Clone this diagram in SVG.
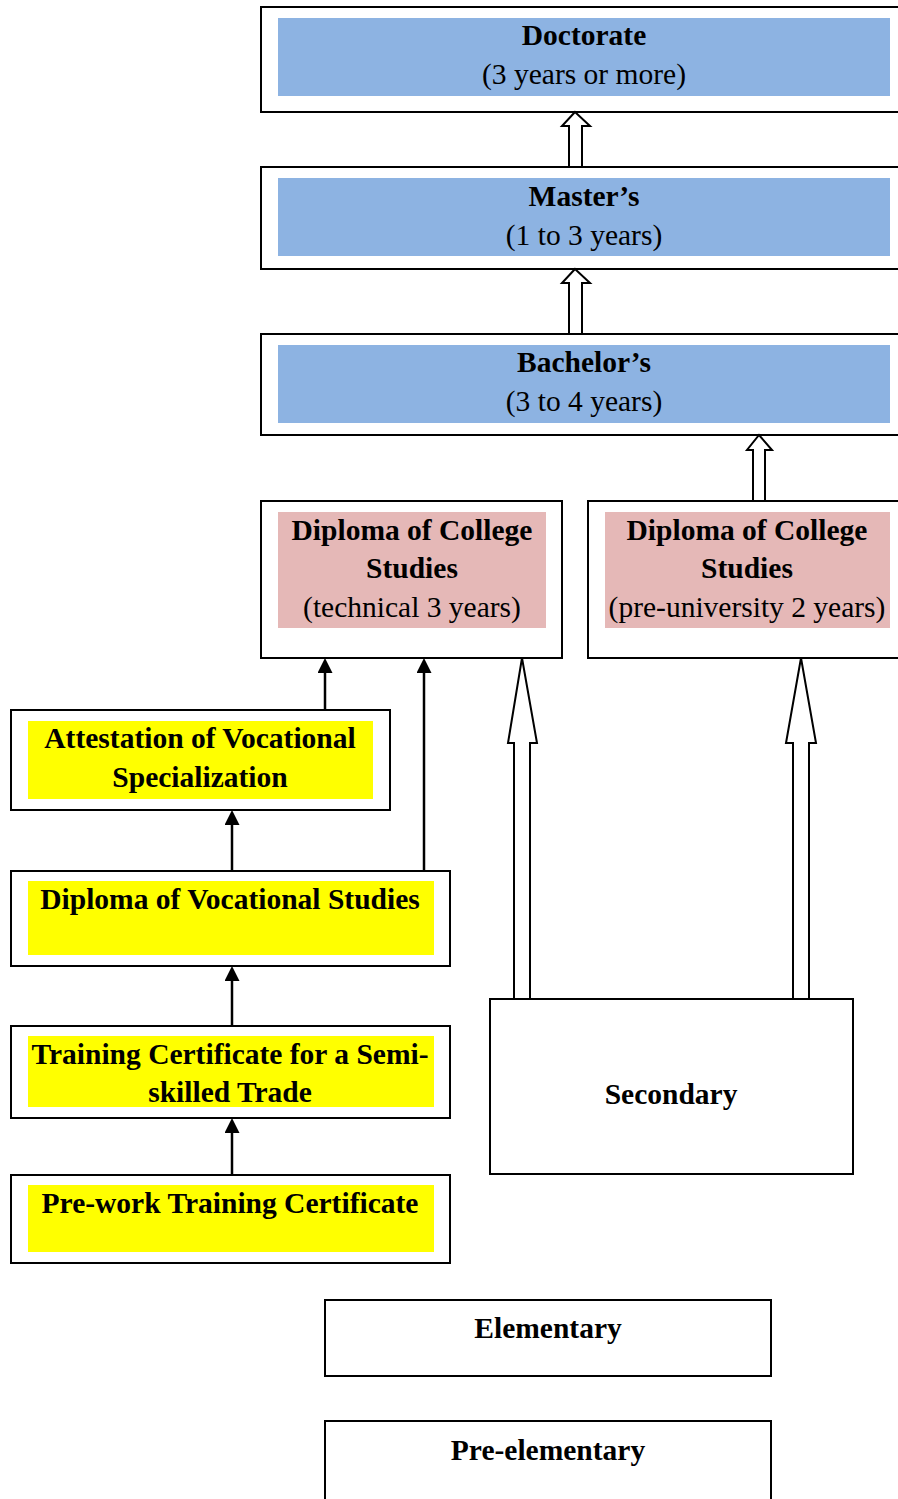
<svg xmlns="http://www.w3.org/2000/svg" width="898" height="1499" viewBox="0 0 898 1499">
<style>
.box{fill:#fff;stroke:#000;stroke-width:2}
.blue{fill:#8db3e2}
.pink{fill:#e5b8b7}
.yel{fill:#ffff00}
.b{font-family:"Liberation Serif","Times New Roman",serif;font-weight:bold;font-size:29.5px;text-anchor:middle;fill:#000}
.r{font-family:"Liberation Serif","Times New Roman",serif;font-size:29.5px;text-anchor:middle;fill:#000}
.hollow{fill:#fff;stroke:#000;stroke-width:2;stroke-linejoin:miter}
.line{stroke:#000;stroke-width:2.5;fill:none}
</style>
<defs>
<marker id="ah" markerWidth="6" markerHeight="6" refX="0" refY="3" orient="auto" markerUnits="strokeWidth" viewBox="0 0 6 6">
<path d="M0,0 L6,3 L0,6 Z" fill="#000"/>
</marker>
</defs>

<g id="doctorate">
<rect class="box" x="261" y="7" width="660" height="105"/>
<rect class="blue" x="278" y="18" width="612" height="78"/>
<text class="b" x="584" y="45">Doctorate</text>
<text class="r" x="584" y="84">(3 years or more)</text>
</g>
<g id="masters">
<rect class="box" x="261" y="167" width="660" height="102"/>
<rect class="blue" x="278" y="178" width="612" height="78"/>
<text class="b" x="584" y="206">Master’s</text>
<text class="r" x="584" y="245">(1 to 3 years)</text>
</g>
<g id="bachelors">
<rect class="box" x="261" y="334" width="660" height="101"/>
<rect class="blue" x="278" y="345" width="612" height="78"/>
<text class="b" x="584" y="372">Bachelor’s</text>
<text class="r" x="584" y="411">(3 to 4 years)</text>
</g>
<g id="dec-technical">
<rect class="box" x="261" y="501" width="301" height="157"/>
<rect class="pink" x="278" y="512" width="268" height="116"/>
<text class="b" x="412" y="540">Diploma of College</text>
<text class="b" x="412" y="578">Studies</text>
<text class="r" x="412" y="617">(technical 3 years)</text>
</g>
<g id="dec-preuniversity">
<rect class="box" x="588" y="501" width="333" height="157"/>
<rect class="pink" x="605" y="512" width="285" height="116"/>
<text class="b" x="747" y="540">Diploma of College</text>
<text class="b" x="747" y="578">Studies</text>
<text class="r" x="747" y="617">(pre-university 2 years)</text>
</g>
<g id="attestation">
<rect class="box" x="11" y="710" width="379" height="100"/>
<rect class="yel" x="28" y="721" width="345" height="78"/>
<text class="b" x="200" y="748">Attestation of Vocational</text>
<text class="b" x="200" y="787">Specialization</text>
</g>
<g id="dvs">
<rect class="box" x="11" y="871" width="439" height="95"/>
<rect class="yel" x="28" y="881" width="406" height="74"/>
<text class="b" x="230" y="909">Diploma of Vocational Studies</text>
</g>
<g id="tcst">
<rect class="box" x="11" y="1026" width="439" height="92"/>
<rect class="yel" x="28" y="1036" width="406" height="71"/>
<text class="b" x="230" y="1064">Training Certificate for a Semi-</text>
<text class="b" x="230" y="1102">skilled Trade</text>
</g>
<g id="pwtc">
<rect class="box" x="11" y="1175" width="439" height="88"/>
<rect class="yel" x="28" y="1185" width="406" height="67"/>
<text class="b" x="230" y="1213">Pre-work Training Certificate</text>
</g>
<g id="secondary">
<rect class="box" x="490" y="999" width="363" height="175"/>
<text class="b" x="671" y="1104">Secondary</text>
</g>
<g id="elementary">
<rect class="box" x="325" y="1300" width="446" height="76"/>
<text class="b" x="548" y="1338">Elementary</text>
</g>
<g id="preelementary">
<rect class="box" x="325" y="1421" width="446" height="90"/>
<text class="b" x="548" y="1460">Pre-elementary</text>
</g>

<g id="connectors">
<polygon class="hollow" points="575,112 590,126 582,126 582,167 569,167 569,126 562,126"/>
<polygon class="hollow" points="575,269 590,283 582,283 582,334 569,334 569,283 562,283"/>
<polygon class="hollow" points="759,435 772,450 765,450 765,501 753,501 753,450 747,450"/>
<polygon class="hollow" points="522,658 537,743 530,743 530,999 514,999 514,743 508,743"/>
<polygon class="hollow" points="801,658 816,743 809,743 809,999 793,999 793,743 786,743"/>
<line class="line" x1="325" y1="710" x2="325" y2="673" marker-end="url(#ah)"/>
<line class="line" x1="424" y1="871" x2="424" y2="673" marker-end="url(#ah)"/>
<line class="line" x1="232" y1="871" x2="232" y2="825" marker-end="url(#ah)"/>
<line class="line" x1="232" y1="1026" x2="232" y2="981" marker-end="url(#ah)"/>
<line class="line" x1="232" y1="1175" x2="232" y2="1133" marker-end="url(#ah)"/>
</g>
</svg>
